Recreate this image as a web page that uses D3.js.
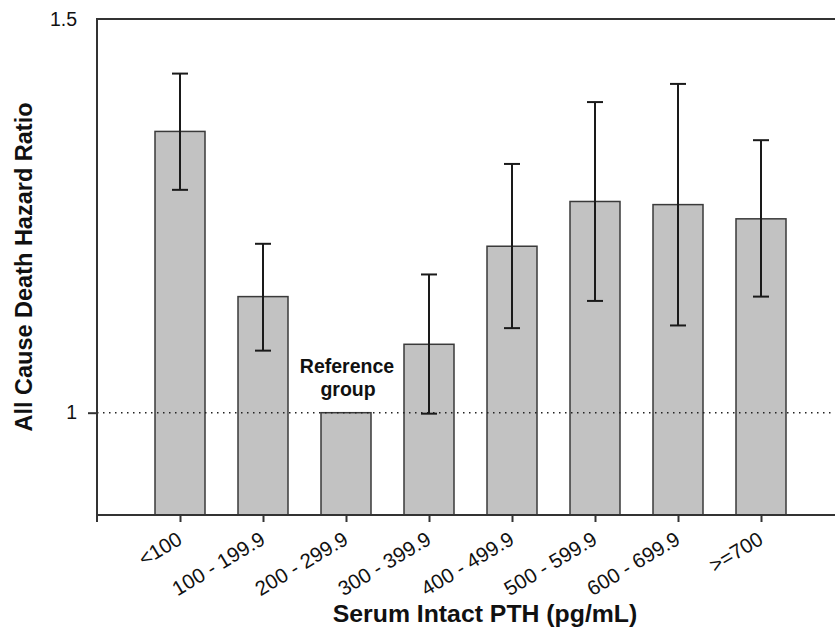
<!DOCTYPE html>
<html lang="en">
<head>
  <meta charset="utf-8">
  <title>All cause death hazard ratio by PTH</title>
  <script src="https://d3js.org/d3.v7.min.js"></script>
  <style>
    body { margin: 0; background: #fff; }
    #chart text { font-family: "Liberation Sans", Arial, sans-serif; fill: #111; }
  </style>
</head>
<body>
  <div id="chart"></div>
  <script>
    "use strict"
    // values
    const categories = ["<100", "100 - 199.9", "200 - 299.9", "300 - 399.9",
                        "400 - 499.9", "500 - 599.9", "600 - 699.9", ">=700"];
    const hazard = [1.336, 1.127, 1.0, 1.073, 1.187, 1.243, 1.239, 1.221];
    const ciLow  = [1.258, 1.066, null, 0.999, 1.091, 1.122, 1.094, 1.127];
    const ciHigh = [1.418, 1.190, null, 1.153, 1.292, 1.377, 1.403, 1.324];
    const yTicks = [1, 1.5];

    const largura = 835, altura = 629;
    const esq = 97, dir = 844, topo = 19, base = 515;

    const svg = d3.select("#chart").append("svg")
      .attr("width", largura)
      .attr("height", altura);

    const x = d3.scalePoint()
      .domain(categories)
      .range([esq + 83, dir - 83]);
    const y = d3.scaleLog()
      .domain([0.9, 1.5])
      .range([base, topo]);

    const dados = categories.map((c, i) => ({cat: c, hr: hazard[i], lo: ciLow[i], hi: ciHigh[i]}));
    const barW = 50, capW = 16;

    // barras
    svg.selectAll("rect.bar")
      .data(dados)
      .enter().append("rect")
        .attr("class", "bar")
        .attr("x", d => x(d.cat) - barW / 2)
        .attr("width", barW)
        .attr("y", d => y(d.hr))
        .attr("height", d => base - y(d.hr))
        .attr("fill", "#c2c2c2")
        .attr("stroke", "#3a3a3a")
        .attr("stroke-width", 1.5);

    // linha pontilhada no 1
    svg.append("line")
      .attr("x1", esq).attr("x2", largura)
      .attr("y1", y(1)).attr("y2", y(1))
      .attr("stroke", "#222")
      .attr("stroke-width", 1.5)
      .attr("stroke-dasharray", "1.5,4.5");

    // barras de erro
    const erro = svg.selectAll("g.erro")
      .data(dados.filter(d => d.lo != null))
      .enter().append("g")
        .attr("class", "erro")
        .attr("stroke", "#1a1a1a")
        .attr("stroke-width", 2);
    erro.append("line")
      .attr("x1", d => x(d.cat)).attr("x2", d => x(d.cat))
      .attr("y1", d => y(d.lo)).attr("y2", d => y(d.hi));
    erro.append("line")
      .attr("x1", d => x(d.cat) - capW / 2).attr("x2", d => x(d.cat) + capW / 2)
      .attr("y1", d => y(d.hi)).attr("y2", d => y(d.hi));
    erro.append("line")
      .attr("x1", d => x(d.cat) - capW / 2).attr("x2", d => x(d.cat) + capW / 2)
      .attr("y1", d => y(d.lo)).attr("y2", d => y(d.lo));

    // moldura: topo e eixos
    svg.append("line")
      .attr("x1", esq).attr("x2", dir)
      .attr("y1", topo).attr("y2", topo)
      .attr("stroke", "#333").attr("stroke-width", 2);

    const eixoY = svg.append("g")
      .attr("transform", "translate(" + esq + ",0)")
      .call(d3.axisLeft(y).tickValues(yTicks).tickFormat(d3.format("")).tickSize(9).tickPadding(11));
    eixoY.select(".domain").remove();
    eixoY.selectAll(".tick line").attr("stroke", "#333").attr("stroke-width", 2)
      .filter(d => d === 1.5).remove();
    eixoY.selectAll(".tick text").attr("font-size", 19.5);
    svg.append("line")
      .attr("x1", esq).attr("x2", esq)
      .attr("y1", topo - 1).attr("y2", base + 1)
      .attr("stroke", "#333").attr("stroke-width", 2);

    const eixoX = svg.append("g")
      .attr("transform", "translate(0," + base + ")")
      .call(d3.axisBottom(x).tickSize(7).tickPadding(0));
    eixoX.select(".domain").remove();
    eixoX.selectAll(".tick line").attr("stroke", "#333").attr("stroke-width", 2);
    eixoX.selectAll(".tick text")
      .attr("font-size", 20.5)
      .attr("text-anchor", "end")
      .attr("y", 0)
      .attr("dy", 0)
      .attr("transform", "translate(3,28) rotate(-31)");
    svg.append("line")
      .attr("x1", esq).attr("x2", dir)
      .attr("y1", base).attr("y2", base)
      .attr("stroke", "#333").attr("stroke-width", 2);
    svg.append("line")
      .attr("x1", esq).attr("x2", esq)
      .attr("y1", base).attr("y2", base + 7)
      .attr("stroke", "#333").attr("stroke-width", 2);

    // rotulo do grupo de referencia
    const ref = svg.append("text")
      .attr("x", x("200 - 299.9") + 1)
      .attr("y", 373)
      .attr("text-anchor", "middle")
      .attr("font-size", 19.5)
      .attr("font-weight", "bold");
    ref.append("tspan").attr("x", x("200 - 299.9") + 1).text("Reference");
    ref.append("tspan").attr("x", x("200 - 299.9") + 2).attr("dy", 23).text("group");

    // titulos dos eixos
    svg.append("text")
      .attr("transform", "translate(32," + ((topo + base) / 2) + ") rotate(-90)")
      .attr("text-anchor", "middle")
      .attr("font-size", 23.5)
      .attr("font-weight", "bold")
      .text("All Cause Death Hazard Ratio");
    svg.append("text")
      .attr("x", 485)
      .attr("y", 622)
      .attr("text-anchor", "middle")
      .attr("font-size", 24.8)
      .attr("font-weight", "bold")
      .text("Serum Intact PTH (pg/mL)");
  </script>
</body>
</html>
